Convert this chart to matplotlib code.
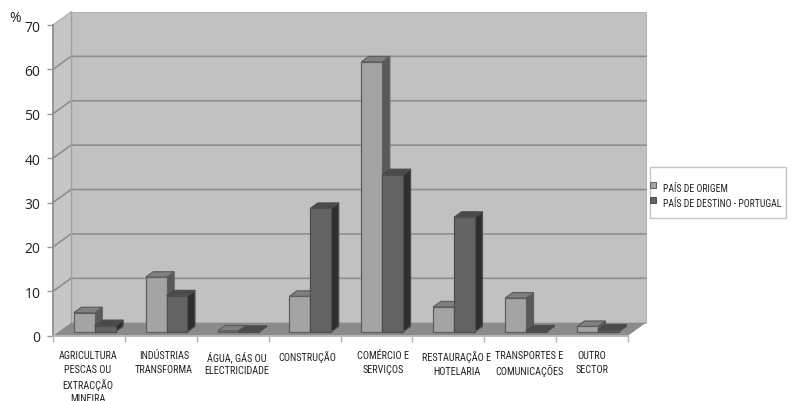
import matplotlib
matplotlib.use("Agg")
import matplotlib.pyplot as plt
from matplotlib.patches import Polygon, Rectangle

categories = [
    "AGRICULTURA\nPESCAS OU\nEXTRACÇÃO\nMINEIRA",
    "INDÚSTRIAS\nTRANSFORMA",
    "ÁGUA, GÁS OU\nELECTRICIDADE",
    "CONSTRUÇÃO",
    "COMÉRCIO E\nSERVIÇOS",
    "RESTAURAÇÃO E\nHOTELARIA",
    "TRANSPORTES E\nCOMUNICAÇÕES",
    "OUTRO\nSECTOR",
]
origem = [4.3, 12.3, 0.2, 8.0, 60.8, 5.6, 7.6, 1.2]
destino = [1.4, 8.1, 0.1, 27.8, 35.4, 25.8, 0.2, 0.4]
series_names = ["PAÍS DE ORIGEM", "PAÍS DE DESTINO - PORTUGAL"]
y_ticks = [0, 10, 20, 30, 40, 50, 60, 70]
label_x = [0.487, 1.544, 2.554, 3.534, 4.591, 5.621, 6.623, 7.499]

W, H = 793, 402
NARROW = ["Roboto Condensed", "DejaVu Sans"]
ROUND = ["Open Sans", "DejaVu Sans"]

# depth of the fake 3D box, in data units
DEPTH_X = 0.25
DEPTH_Y = 2.93
BAR_W = 0.29
BAR_START = 0.215
NEAR, FAR = 0.30, 0.72

WALL = "#c1c1c1"
SIDE_WALL = "#c6c6c6"
FLOOR = "#8b8b8b"
GRID = "#8e8e8e"
ORIG = {"face": "#a4a4a4", "top": "#808080", "side": "#595959", "edge": "#5f5f5f"}
DEST = {"face": "#646464", "top": "#4a4a4a", "side": "#2f2f2f", "edge": "#4d4d4d"}


def draw_box(ax, x, w, value, colors, zorder):
    dx0, dy0 = NEAR * DEPTH_X, NEAR * DEPTH_Y
    dx1, dy1 = FAR * DEPTH_X, FAR * DEPTH_Y
    left, right = x + dx0, x + w + dx0
    base, top = dy0, value + dy0
    back = dx1 - dx0
    rise = dy1 - dy0
    kw = dict(closed=True, edgecolor=colors["edge"], linewidth=0.9, clip_on=False, zorder=zorder)
    ax.add_patch(Polygon([(right, base), (right + back, base + rise), (right + back, top + rise), (right, top)],
                         facecolor=colors["side"], **kw))
    ax.add_patch(Polygon([(left, top), (right, top), (right + back, top + rise), (left + back, top + rise)],
                         facecolor=colors["top"], **kw))
    ax.add_patch(Rectangle((left, base), w, value, facecolor=colors["face"], edgecolor=colors["edge"],
                           linewidth=0.9, clip_on=False, zorder=zorder))


fig = plt.figure(figsize=(W / 100, H / 100), dpi=100, facecolor="white")
ax = fig.add_axes([53 / W, (H - 336.7) / H, 575 / W, 310.7 / H])
n = len(categories)
ax.set_xlim(0, n)
ax.set_ylim(0, 70)
ax.patch.set_visible(False)

# back wall, left wall and floor
ax.add_patch(Rectangle((DEPTH_X, DEPTH_Y), n, 70, facecolor=WALL, edgecolor="#b4b4b4",
                       linewidth=0.8, clip_on=False, zorder=1))
ax.add_patch(Polygon([(0, 0), (DEPTH_X, DEPTH_Y), (DEPTH_X, 70 + DEPTH_Y), (0, 70)], closed=True,
                     facecolor=SIDE_WALL, edgecolor="none", clip_on=False, zorder=1))
ax.add_patch(Polygon([(0, 0), (n, 0), (n + DEPTH_X, DEPTH_Y), (DEPTH_X, DEPTH_Y)], closed=True,
                     facecolor=FLOOR, edgecolor="none", clip_on=False, zorder=2))

for v in y_ticks[1:-1]:
    ax.plot([0, DEPTH_X, n + DEPTH_X], [v, v + DEPTH_Y, v + DEPTH_Y], color=GRID, lw=1.2,
            clip_on=False, zorder=1.5)
ax.plot([0, DEPTH_X], [70, 70 + DEPTH_Y], color="#b4b4b4", lw=1.0, clip_on=False, zorder=1.5)
ax.plot([DEPTH_X, DEPTH_X], [DEPTH_Y, 70 + DEPTH_Y], color="#a0a0a0", lw=1.0, clip_on=False, zorder=1.5)

for i in range(n):
    x = i + BAR_START
    draw_box(ax, x, BAR_W, origem[i], ORIG, 3 + i * 0.1)
    draw_box(ax, x + BAR_W, BAR_W, destino[i], DEST, 3.05 + i * 0.1)

for name, spine in ax.spines.items():
    spine.set_visible(name in ("left", "bottom"))
    spine.set_color("#8f8f8f")
    spine.set_linewidth(1.3)
    spine.set_zorder(2.5)
ax.spines["bottom"].set_color("#b5b5b5")

ax.set_yticks(y_ticks)
ax.tick_params(axis="y", length=4, width=1, color="#9a9a9a", labelsize=10, labelcolor="#222222", pad=5)
for label in ax.get_yticklabels():
    label.set_family(ROUND)

# tick marks sit on category boundaries, the labels have their own anchors
ax.set_xticks(label_x)
ax.set_xticklabels(categories, family=NARROW, fontsize=7.4, color="#222222", linespacing=1.42, va="top")
ax.set_xticks(range(n + 1), minor=True)
ax.tick_params(axis="x", which="major", length=0, pad=10.4)
ax.tick_params(axis="x", which="minor", length=4, width=1, color="#b5b5b5")

fig.text(15 / W, 1 - 19 / H, "%", family=ROUND, fontsize=10, color="#222222", ha="center", va="center")

# legend box straddled by its small markers
fig.add_artist(Rectangle((650 / W, 1 - 219 / H), 136 / W, 51 / H, transform=fig.transFigure,
                         facecolor="white", edgecolor="#c4c4c4", linewidth=1.0))
for y_px, name, colors in zip([186, 201], series_names, [ORIG, DEST]):
    fig.add_artist(Rectangle((649.5 / W, 1 - (y_px + 3) / H), 6 / W, 6 / H, transform=fig.transFigure,
                             facecolor=colors["face"], edgecolor=colors["edge"], linewidth=0.7))
    fig.text(663 / W, 1 - (y_px + 3) / H, name, family=NARROW, fontsize=7.0, color="#222222",
             ha="left", va="center")

fig.savefig("out.png", dpi=100)
